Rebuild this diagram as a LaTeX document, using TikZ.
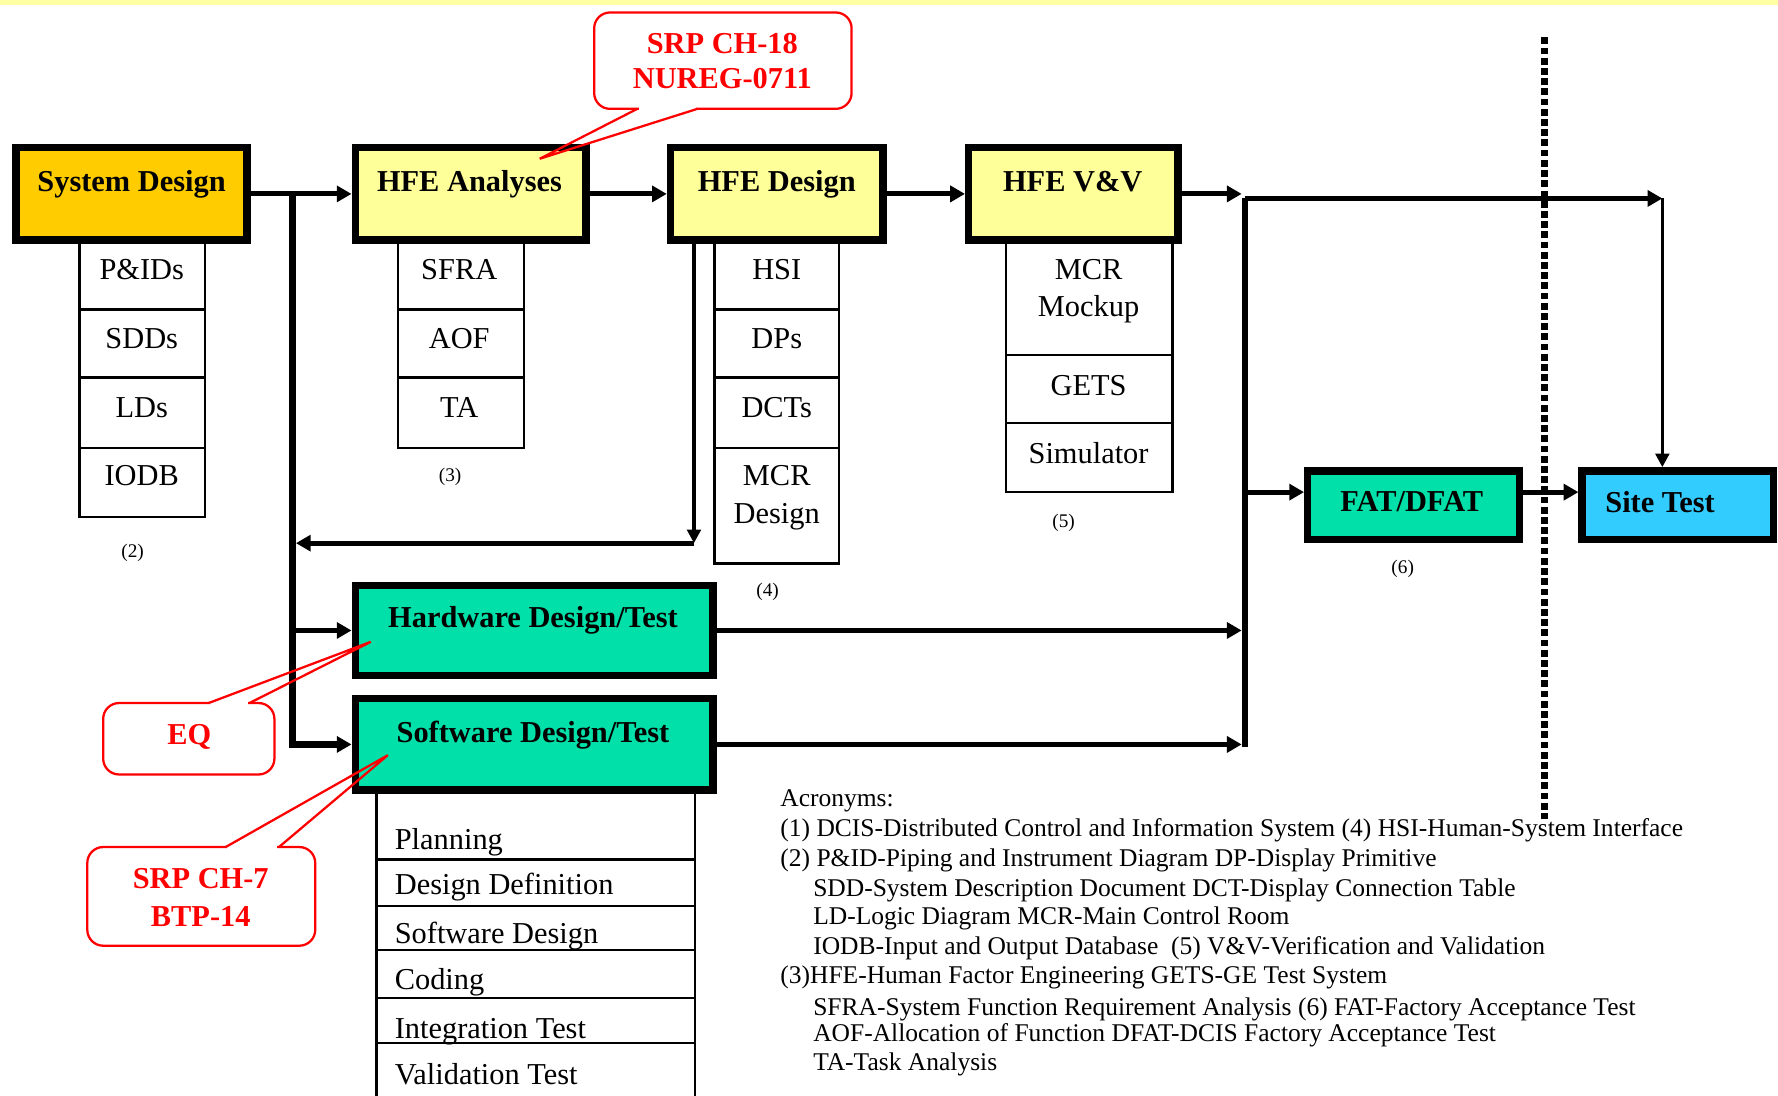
\documentclass[tikz,border=0pt]{standalone}
\usepackage{fontspec}
\setmainfont{Liberation Serif}
\usetikzlibrary{arrows.meta}
\definecolor{gold}{HTML}{FFCC00}
\definecolor{lyel}{HTML}{FFFF99}
\definecolor{sgreen}{HTML}{00E0A8}
\definecolor{sblue}{HTML}{33CCFF}
\definecolor{strip}{HTML}{FFFFA3}
\tikzset{
 mainbox/.style={draw=black, line width=6.5pt, inner sep=0pt},
 cell/.style={draw=black, line width=2pt, fill=white, inner sep=0pt},
 ttl/.style={inner sep=0pt, font=\fontsize{26.8}{30}\selectfont\bfseries, text height=17.5pt, text depth=0pt},
 ctx/.style={inner sep=0pt, font=\fontsize{26.8}{30}\selectfont, text height=17.5pt, text depth=0pt},
 sml/.style={inner sep=0pt, font=\fontsize{17}{20}\selectfont, text height=11.2pt, text depth=0pt},
 acr/.style={inner sep=0pt, anchor=west, font=\fontsize{22.5}{26}\selectfont, text height=14.8pt, text depth=0pt},
 conn/.style={line width=4.5pt, -{Triangle[length=13pt,width=14pt]}},
 thinconn/.style={line width=3pt, -{Triangle[length=12pt,width=12pt]}},
 trunk/.style={line width=6pt},
 dotline/.style={line width=6pt, dash pattern=on 6pt off 3pt},
 callout/.style={draw=red, line width=2pt, rounded corners=14pt, inner sep=0pt},
 ctxt/.style={ttl, text=red},
 tail/.style={draw=red, line width=2pt, line join=miter},
 erase/.style={draw=white, line width=3.5pt, shorten <=1.5pt, shorten >=1.5pt},
}
\begin{document}
\begin{tikzpicture}[x=1pt,y=-1pt]
\useasboundingbox (0,0) rectangle (1568,966);
\fill[strip] (0,0) rectangle (1568,4.5);

% ---- sub cells ----
\node[cell, minimum width=111pt, minimum height=60pt] (sd1) at (125.5,243) {};
\node[cell, minimum width=111pt, minimum height=60pt] (sd2) at (125.5,303) {};
\node[cell, minimum width=111pt, minimum height=62pt] (sd3) at (125.5,364) {};
\node[cell, minimum width=111pt, minimum height=61pt] (sd4) at (125.5,425.5) {};

\node[cell, minimum width=111pt, minimum height=60pt] (ha1) at (406.5,243) {};
\node[cell, minimum width=111pt, minimum height=60pt] (ha2) at (406.5,303) {};
\node[cell, minimum width=111pt, minimum height=62pt] (ha3) at (406.5,364) {};

\node[cell, minimum width=110pt, minimum height=60pt] (hd1) at (685,243) {};
\node[cell, minimum width=110pt, minimum height=60pt] (hd2) at (685,303) {};
\node[cell, minimum width=110pt, minimum height=62pt] (hd3) at (685,364) {};
\node[cell, minimum width=110pt, minimum height=102pt] (hd4) at (685,446) {};

\node[cell, minimum width=147pt, minimum height=100pt] (hv1) at (960.5,263) {};
\node[cell, minimum width=147pt, minimum height=60pt] (hv2) at (960.5,343) {};
\node[cell, minimum width=147pt, minimum height=61pt] (hv3) at (960.5,403.5) {};

\node[cell, minimum width=281pt, minimum height=59pt] (sw1) at (472.5,728.5) {};
\node[cell, minimum width=281pt, minimum height=41pt] (sw2) at (472.5,778.5) {};
\node[cell, minimum width=281pt, minimum height=39pt] (sw3) at (472.5,818.5) {};
\node[cell, minimum width=281pt, minimum height=42pt] (sw4) at (472.5,859) {};
\node[cell, minimum width=281pt, minimum height=40pt] (sw5) at (472.5,900) {};
\node[cell, minimum width=281pt, minimum height=60pt] (sw6) at (472.5,950) {};

% ---- main boxes ----
\node[mainbox, fill=gold, minimum width=203.5pt, minimum height=81.5pt] (sd) at (116,171) {};
\node[mainbox, fill=lyel, minimum width=203.5pt, minimum height=81.5pt] (hfea) at (415,171) {};
\node[mainbox, fill=lyel, minimum width=187.5pt, minimum height=81.5pt] (hfed) at (685,171) {};
\node[mainbox, fill=lyel, minimum width=184.5pt, minimum height=81.5pt] (hfev) at (946.5,171) {};
\node[mainbox, fill=sgreen, minimum width=186.5pt, minimum height=60.5pt] (fat) at (1246.5,445.5) {};
\node[mainbox, fill=sblue, minimum width=168.5pt, minimum height=60.5pt] (site) at (1479.5,445.5) {};
\node[mainbox, fill=sgreen, minimum width=315.5pt, minimum height=79.5pt] (hw) at (471,556) {};
\node[mainbox, fill=sgreen, minimum width=315.5pt, minimum height=80.5pt] (sw) at (471,656.5) {};

% ---- titles ----
\node[ttl] (sdt) at (116,160) {System Design};
\node[ttl] (hfeat) at (414,160) {HFE Analyses};
\node[ttl] (hfedt) at (685,160) {HFE Design};
\node[ttl] (hfevt) at (946,160) {HFE V\&V};
\node[ttl] (fatt) at (1245,442) {FAT/DFAT};
\node[ttl] (sitet) at (1464,443) {Site Test};
\node[ttl] (hwt) at (470,545) {Hardware Design/Test};
\node[ttl] (swt) at (470,646) {Software Design/Test};

% ---- cell texts ----
\node[ctx] (sd1t) at (125,238) {P\&IDs};
\node[ctx] (sd2t) at (125,299) {SDDs};
\node[ctx] (sd3t) at (125,359) {LDs};
\node[ctx] (sd4t) at (125,419) {IODB};
\node[ctx] (ha1t) at (405,238) {SFRA};
\node[ctx] (ha2t) at (405,299) {AOF};
\node[ctx] (ha3t) at (405,359) {TA};
\node[ctx] (hd1t) at (685,238) {HSI};
\node[ctx] (hd2t) at (685,299) {DPs};
\node[ctx] (hd3t) at (685,359) {DCTs};
\node[ctx] (hd4t) at (685,419) {MCR};
\node[ctx] (hd4u) at (685,453) {Design};
\node[ctx] (hv1t) at (960,238) {MCR};
\node[ctx] (hv1u) at (960,270) {Mockup};
\node[ctx] (hv2t) at (960,340) {GETS};
\node[ctx] (hv3t) at (960,400) {Simulator};
\node[ctx, anchor=west] (sw1t) at (348,740) {Planning};
\node[ctx, anchor=west] (sw2t) at (348,780) {Design Definition};
\node[ctx, anchor=west] (sw3t) at (348,823) {Software Design};
\node[ctx, anchor=west] (sw4t) at (348,864) {Coding};
\node[ctx, anchor=west] (sw5t) at (348,907) {Integration Test};
\node[ctx, anchor=west] (sw6t) at (348,948) {Validation Test};

% ---- small labels ----
\node[sml] (n2) at (117,486) {(2)};
\node[sml] (n3) at (397,419) {(3)};
\node[sml] (n4) at (677,520) {(4)};
\node[sml] (n5) at (938,460) {(5)};
\node[sml] (n6) at (1237,500) {(6)};

% ---- connectors ----
\draw[conn] (sd) -- (hfea);
\coordinate (t1) at (258,171);
\coordinate (t2) at (258,556);
\draw[conn, line width=5.5pt] (t1) |- (sw);
\draw[conn] (t2) -- (hw);
\coordinate (r2) at (612,479);
\coordinate (r3) at (261,479);
\draw[thinconn] (hfed.south -| r2) -- (r2);
\draw[conn] (r2) -- (r3);
\draw[conn] (hfea) -- (hfed);
\draw[conn] (hfed) -- (hfev);
\coordinate (v1) at (1095,171);
\draw[conn] (hfev) -- (v1);
\coordinate (v2) at (1098,175);
\coordinate (v3) at (1098,659);
\draw[trunk] (v2) -- (v3);
\coordinate (v4) at (1095,556);
\draw[conn] (hw) -- (v4);
\coordinate (v5) at (1095,656.5);
\draw[conn] (sw) -- (v5);
\coordinate (v6) at (1098,434);
\draw[conn] (v6) -- (fat.west |- v6);
\coordinate (s1) at (1466,175);
\draw[conn] (v2) -- (s1);
\draw[thinconn] (s1) -- (s1 |- site.north);
\draw[conn] (fat.east |- v6) -- (site.west |- v6);
\coordinate (d1) at (1362,33);
\coordinate (d2) at (1362,722);
\draw[dotline] (d1) -- (d2);

% ---- callouts ----
\node[callout, minimum width=227pt, minimum height=85pt] (c1) at (637.5,53.5) {};
\coordinate (c1a) at (562,96);
\coordinate (c1b) at (615,96);
\coordinate (c1t) at (476,140);
\draw[erase] (c1a) -- (c1b);
\draw[tail] (c1a) -- (c1t) -- (c1b);
\node[ctxt] (c1x) at (637,38) {SRP CH-18};
\node[ctxt] (c1y) at (637,69) {NUREG-0711};

\node[callout, minimum width=151pt, minimum height=63pt] (c2) at (166.5,651.5) {};
\coordinate (c2a) at (184,620);
\coordinate (c2b) at (220,620);
\coordinate (c2t) at (327,566);
\draw[erase] (c2a) -- (c2b);
\draw[tail] (c2a) -- (c2t) -- (c2b);
\node[ctxt] (c2x) at (167,648) {EQ};

\node[callout, minimum width=201pt, minimum height=87pt] (c3) at (177.5,790.5) {};
\coordinate (c3a) at (199,747);
\coordinate (c3b) at (246,747);
\coordinate (c3t) at (342,666);
\draw[erase] (c3a) -- (c3b);
\draw[tail] (c3a) -- (c3t) -- (c3b);
\node[ctxt] (c3x) at (177,775) {SRP CH-7};
\node[ctxt] (c3y) at (177,808) {BTP-14};

% ---- acronyms ----
\node[acr] (a0) at (688,704) {Acronyms:};
\node[acr] (a1) at (688,730) {(1) DCIS-Distributed Control and Information System (4) HSI-Human-System Interface};
\node[acr] (a2) at (688,757) {(2) P\&ID-Piping and Instrument Diagram DP-Display Primitive};
\node[acr] (a3) at (717,783) {SDD-System Description Document DCT-Display Connection Table};
\node[acr] (a4) at (717,808) {LD-Logic Diagram MCR-Main Control Room};
\node[acr] (a5) at (717,834) {IODB-Input and Output Database\ \ (5) V\&V-Verification and Validation};
\node[acr] (a6) at (688,860) {(3)HFE-Human Factor Engineering GETS-GE Test System};
\node[acr] (a7) at (717,888) {SFRA-System Function Requirement Analysis (6) FAT-Factory Acceptance Test};
\node[acr] (a8) at (717,911) {AOF-Allocation of Function DFAT-DCIS Factory Acceptance Test};
\node[acr] (a9) at (717,937) {TA-Task Analysis};
\end{tikzpicture}
\end{document}
